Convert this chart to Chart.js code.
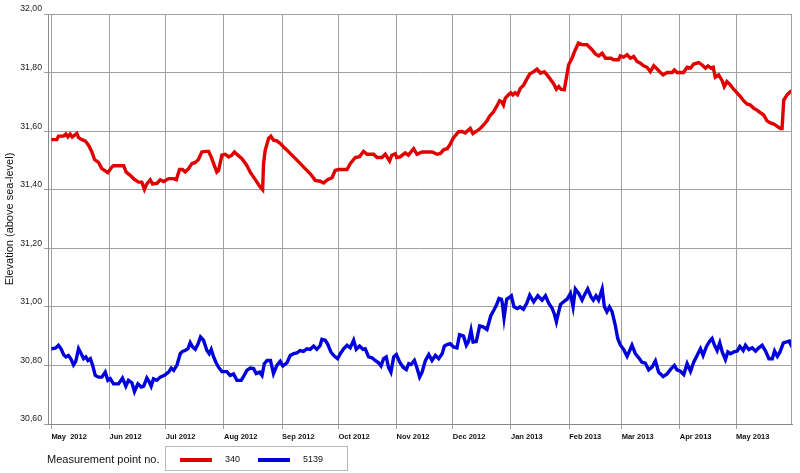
<!DOCTYPE html>
<html>
<head>
<meta charset="utf-8">
<script src="https://cdn.jsdelivr.net/npm/chart.js@4.4.1/dist/chart.umd.min.js"></script>
<style>
  html, body { margin:0; padding:0; background:#fff; }
  #wrap { position:relative; width:800px; height:473px; font-family:"Liberation Sans", Arial, sans-serif; }
  #wrap canvas { position:absolute; left:0; top:0; }
  #legTitle { position:absolute; left:47px; top:453px; font-size:11px; color:#111; }
  #legBox { position:absolute; left:165px; top:446px; width:183px; height:25px; border:1px solid #b8b8b8; box-sizing:border-box; }
  .sw { position:absolute; top:11px; height:4px; width:32px; }
  .lt { position:absolute; top:7px; font-size:9px; color:#111; }
</style>
</head>
<body>
<div id="wrap">
  <canvas id="c" width="800" height="473"></canvas>
  <div id="legTitle">Measurement point no.</div>
  <div id="legBox">
    <div class="sw" style="left:14px;background:#e10000"></div><div class="lt" style="left:59px">340</div>
    <div class="sw" style="left:92px;background:#0000dc"></div><div class="lt" style="left:137px">5139</div>
  </div>
</div>
<script>
// Days counted from 1 May 2012
const monthDays   = [0, 31, 61, 92, 123, 153, 184, 214, 245, 276, 304, 335, 365];
const monthLabels = ['May  2012','Jun 2012','Jul 2012','Aug 2012','Sep 2012','Oct 2012','Nov 2012','Dec 2012','Jan 2013','Feb 2013','Mar 2013','Apr 2013','May 2013'];
const yTicks = [30.6, 30.8, 31.0, 31.2, 31.4, 31.6, 31.8, 32.0];

const seriesNames = ['340', '5139'];

const days340 = [0,2.9,3.8,6.5,7.7,8.8,10,11.1,13.6,14.5,16.3,18,19.8,21.6,23,25.1,26.9,28.7,30.1,32.3,33.1,38.5,39.9,42,43.8,46.4,48.2,49.6,50.9,52.7,53.9,56.3,58,59.8,62.5,65.2,66.6,68.3,69.9,71.3,73.1,74.9,76.7,78.4,80.2,82.3,83.8,85.2,86.5,88.2,89.1,90.9,92.7,94.5,96.2,97.6,99.4,101.6,104.2,106,107.8,109.6,111.3,112.6,113.1,114,115.8,117,118.4,120.2,122,123.8,125.6,128.2,130.9,133.6,136.2,138.4,140.6,143.3,145.1,147.2,149.6,151.3,153.1,157.6,159.3,162,164.3,166.4,168.3,171.8,173.6,176.2,178,180.3,181.5,183.3,184.1,185.9,188.6,190.3,193.1,194.9,197.6,200.3,203,205.6,207.4,209.2,211,212.6,214.1,217.1,218.9,220.6,223.3,224.7,226.9,228.6,230.4,232.2,233.6,235.7,237.5,238.9,240.1,241,241.9,243.7,244.9,246,247.2,248.5,250,251.8,253.2,255,257.1,258.9,260.7,262.8,264.2,266,267.8,269.2,270.5,271.7,273.4,274.5,275.7,277.5,279.3,281,282.8,285.5,288.2,290,291.8,293.6,295.4,298.3,299.7,302.3,303.3,305,306.9,308.7,310.4,312.2,314,315.7,317.5,319.3,321.1,322.9,324.7,326.1,328.2,330.9,332.1,333.5,337,338.9,340.7,342.4,345.1,346.9,348.7,350,351.8,352.8,353.9,355.7,357.5,358.7,360.1,361.9,363.7,365.5,367.3,369,370.8,372.6,374.4,376.1,377.9,379.7,381.5,383.3,385.1,386.8,388.6,389.5,390.4,392.2,393.9,394.8];
const elev340 = [31.571,31.571,31.583,31.583,31.590,31.580,31.590,31.580,31.592,31.578,31.571,31.567,31.552,31.529,31.503,31.493,31.472,31.464,31.458,31.478,31.482,31.482,31.460,31.449,31.438,31.426,31.426,31.401,31.420,31.434,31.420,31.422,31.434,31.428,31.438,31.438,31.434,31.469,31.469,31.461,31.472,31.489,31.493,31.503,31.529,31.531,31.531,31.512,31.489,31.460,31.465,31.518,31.521,31.512,31.518,31.529,31.518,31.506,31.483,31.460,31.443,31.426,31.409,31.400,31.489,31.535,31.575,31.583,31.569,31.567,31.558,31.546,31.535,31.518,31.501,31.483,31.466,31.452,31.432,31.429,31.423,31.434,31.441,31.466,31.469,31.469,31.489,31.510,31.513,31.531,31.521,31.521,31.510,31.510,31.521,31.498,31.518,31.523,31.510,31.512,31.526,31.518,31.540,31.521,31.529,31.529,31.529,31.521,31.524,31.537,31.540,31.555,31.575,31.598,31.599,31.594,31.609,31.592,31.601,31.609,31.621,31.635,31.651,31.666,31.686,31.704,31.700,31.689,31.712,31.724,31.731,31.724,31.731,31.724,31.746,31.758,31.775,31.795,31.803,31.812,31.798,31.803,31.792,31.777,31.761,31.743,31.752,31.743,31.741,31.781,31.826,31.849,31.878,31.901,31.896,31.895,31.878,31.864,31.857,31.866,31.849,31.849,31.844,31.844,31.857,31.853,31.861,31.849,31.855,31.838,31.832,31.823,31.818,31.803,31.823,31.812,31.800,31.792,31.800,31.800,31.809,31.800,31.800,31.818,31.815,31.829,31.834,31.826,31.815,31.823,31.815,31.818,31.784,31.792,31.773,31.752,31.769,31.758,31.743,31.731,31.718,31.704,31.693,31.689,31.678,31.672,31.663,31.655,31.635,31.628,31.624,31.617,31.609,31.609,31.706,31.724,31.735,31.738];

const days5139 = [0,2.1,3.8,5.3,6.5,7.7,9.1,10.5,11.8,13,14.5,15.9,17.2,18.4,19.5,20.8,22,23.4,25.1,26.9,28.7,30.1,31.4,33.1,35.8,37.9,39.7,41.1,42.9,44.3,46.1,47.9,49.2,50.9,52.1,53.2,54.4,56.2,58,60.3,62.5,63.9,65.2,67,68.7,69.9,71.3,72.8,74,75.3,76.7,78.2,79.5,81.1,82.9,84.1,85.2,86.5,87.7,89.1,90.9,93.5,95.3,97.1,98.9,101.2,102.5,104.2,106,107.8,109.2,111,112.3,113.5,115,116.8,118.4,120.2,122,123.4,125.6,127.3,129.1,130.9,132.6,134.4,136.2,138,139.8,141.5,143.3,144.2,146,147.2,149,150.8,152.6,154,155.8,157.6,159.3,161.1,162.5,164.3,166.1,167.3,169.1,170.9,172.6,174.4,175.7,177.1,178.5,179.7,181,182.5,183.9,185.7,187.5,189.2,190.5,191.7,193.5,194.9,196.3,197.6,199.4,201.2,202.9,204.7,206.5,208.3,209.5,210.9,212.6,214.4,216.2,217.6,219.7,221.2,222.4,223.7,224.8,226.5,228.3,230.1,232.2,234.2,235.9,237.4,238.6,239.9,240.4,241.3,242.7,243.9,245.2,246.6,248.4,249.8,251.6,253.4,255,257.1,259.3,261.6,263.4,265.2,267,268.2,269.2,270,271.4,273.5,274.9,276.7,278.1,279.3,281.1,282.9,284.1,285.9,287.7,288.9,290.3,291.7,293.6,294.8,296.1,297.5,298.9,300.6,301.9,303.3,305.1,306.9,308.3,309.5,311.3,313.1,314.8,316.6,318.4,320.2,322,323.7,326.1,328.2,330.4,332.1,333.5,335.3,337.1,338.9,340.7,342.4,344.2,346,347.4,349.2,351,352.2,353.5,354.9,356.3,357.6,359.3,360.6,362,363.8,365.6,367,368.8,370,371.8,373.6,375.4,377.1,378.9,380.7,382.5,384.3,385.5,387,388.4,390.2,391.9,393.2,394.1,395];
const elev5139 = [30.857,30.859,30.869,30.855,30.837,30.829,30.834,30.821,30.802,30.814,30.857,30.840,30.823,30.829,30.817,30.823,30.800,30.766,30.760,30.760,30.777,30.749,30.755,30.737,30.737,30.757,30.729,30.749,30.741,30.711,30.737,30.726,30.729,30.757,30.745,30.729,30.754,30.749,30.760,30.766,30.777,30.791,30.783,30.802,30.840,30.848,30.851,30.857,30.878,30.863,30.855,30.874,30.897,30.886,30.851,30.840,30.855,30.829,30.811,30.794,30.779,30.779,30.766,30.771,30.749,30.749,30.763,30.783,30.791,30.789,30.772,30.777,30.766,30.806,30.817,30.817,30.772,30.800,30.814,30.798,30.809,30.834,30.840,30.843,30.851,30.848,30.857,30.855,30.866,30.855,30.868,30.889,30.886,30.874,30.846,30.832,30.823,30.840,30.857,30.869,30.860,30.886,30.855,30.866,30.855,30.857,30.829,30.826,30.817,30.809,30.798,30.823,30.829,30.794,30.777,30.829,30.837,30.811,30.794,30.786,30.806,30.803,30.817,30.791,30.760,30.777,30.817,30.837,30.817,30.834,30.823,30.840,30.866,30.871,30.874,30.863,30.860,30.905,30.900,30.869,30.882,30.920,30.880,30.882,30.935,30.932,30.923,30.969,30.989,31.008,31.029,31.026,31.012,30.962,31.026,31.031,31.038,31.000,30.994,31.000,30.992,31.012,31.040,31.017,31.038,31.023,31.038,31.012,30.994,30.974,30.949,30.972,31.008,31.020,31.026,31.046,31.000,31.061,31.046,31.023,31.040,31.061,31.034,31.023,31.038,31.023,31.061,31.000,30.983,31.000,30.983,30.937,30.892,30.870,30.854,30.831,30.851,30.869,30.840,30.826,30.811,30.808,30.785,30.794,30.815,30.777,30.762,30.771,30.789,30.800,30.785,30.780,30.769,30.806,30.780,30.811,30.834,30.857,30.834,30.865,30.883,30.892,30.869,30.851,30.877,30.846,30.820,30.846,30.840,30.846,30.849,30.865,30.851,30.869,30.854,30.860,30.849,30.860,30.869,30.849,30.823,30.823,30.849,30.831,30.846,30.877,30.880,30.883,30.872,30.888];

const FONT = '"Liberation Sans", Arial, sans-serif';
const toXY = (xs, ys) => xs.map((d, i) => ({ x: d, y: ys[i] }));

const frame = {
  id: 'frame',
  afterDraw(chart) {
    const { ctx, chartArea: a } = chart;
    ctx.save();
    ctx.strokeStyle = '#a0a0a0';
    ctx.lineWidth = 1;
    ctx.beginPath();
    ctx.moveTo(a.left, a.top + 0.5); ctx.lineTo(a.right, a.top + 0.5);
    ctx.moveTo(a.right - 0.5, a.top); ctx.lineTo(a.right - 0.5, a.bottom);
    ctx.stroke();
    ctx.restore();
  }
};

new Chart(document.getElementById('c'), {
  type: 'line',
  data: {
    datasets: [
      { label: seriesNames[0], data: toXY(days340, elev340), borderColor: '#e10000', borderWidth: 3.4, pointRadius: 0, tension: 0, fill: false },
      { label: seriesNames[1], data: toXY(days5139, elev5139), borderColor: '#0000dc', borderWidth: 3.4, pointRadius: 0, tension: 0, fill: false }
    ]
  },
  options: {
    responsive: false,
    animation: false,
    devicePixelRatio: 1,
    layout: { padding: { top: 14, right: 8, left: 0, bottom: 0 } },
    plugins: { legend: { display: false }, tooltip: { enabled: false } },
    scales: {
      x: {
        type: 'linear', min: -1.8, max: 394.8,
        afterBuildTicks: s => { s.ticks = monthDays.map(v => ({ value: v })); },
        afterFit: s => { s.height = 49; },
        ticks: {
          autoSkip: false, maxRotation: 0, align: 'start', padding: 3,
          callback: (v, i) => monthLabels[i],
          font: { family: FONT, size: 7.5, weight: 'bold' }, color: '#111'
        },
        grid: { color: '#a0a0a0', tickLength: 5 },
        border: { color: '#888' }
      },
      y: {
        min: 30.6, max: 32.0,
        afterBuildTicks: s => { s.ticks = yTicks.map(v => ({ value: v })); },
        afterFit: s => { s.width = 48; },
        ticks: {
          padding: 2, labelOffset: -5,
          callback: v => Number(v).toFixed(2).replace('.', ','),
          font: { family: FONT, size: 8.7 }, color: '#222'
        },
        grid: { color: '#a0a0a0', tickLength: 4 },
        border: { color: '#888' },
        title: { display: true, text: 'Elevation (above sea-level)', font: { family: FONT, size: 11 }, color: '#111', padding: { top: 3, bottom: 0 } }
      }
    }
  },
  plugins: [frame]
});
</script>
</body>
</html>
